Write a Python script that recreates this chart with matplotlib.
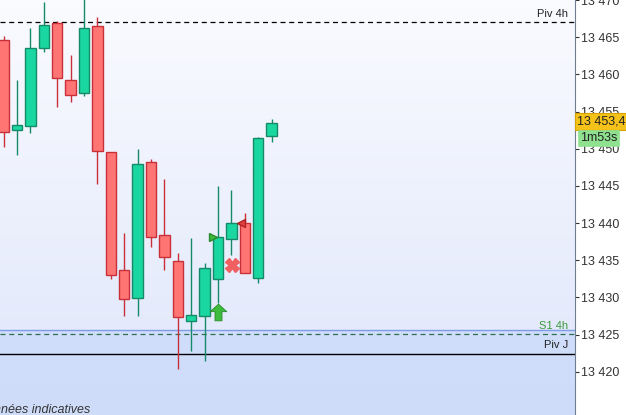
import matplotlib
matplotlib.use("Agg")
import matplotlib.pyplot as plt
import matplotlib.transforms as mtransforms
from matplotlib.path import Path
import numpy as np
from matplotlib.colors import LinearSegmentedColormap

plt.rcParams['font.family'] = ['Liberation Sans', 'DejaVu Sans']

# candles
opens  = [13464.6, 13452.5, 13453.0, 13463.5, 13466.9, 13459.2, 13457.5, 13466.5, 13449.5, 13433.7, 13429.9,
          13448.2, 13438.4, 13434.9, 13426.8, 13427.5, 13432.5, 13437.8, 13440.0, 13432.6, 13451.7]
highs  = [13465.2, 13459.2, 13466.2, 13469.7, 13467.2, 13462.6, 13471.0, 13467.7, 13449.6, 13438.7, 13449.9,
          13448.6, 13445.9, 13436.0, 13438.0, 13434.6, 13445.0, 13444.4, 13441.3, 13451.6, 13454.0]
lows   = [13450.3, 13449.1, 13452.1, 13463.0, 13455.6, 13456.3, 13457.1, 13445.2, 13432.5, 13427.5, 13427.5,
          13436.8, 13433.7, 13420.4, 13422.8, 13421.5, 13429.2, 13435.7, 13433.3, 13431.9, 13450.9]
closes = [13452.2, 13453.2, 13463.5, 13466.7, 13459.5, 13457.2, 13466.2, 13449.7, 13433.0, 13429.8, 13447.9,
          13438.1, 13435.4, 13427.4, 13427.6, 13434.0, 13438.1, 13440.0, 13433.3, 13451.4, 13453.4]

piv_4h = 13467.0
s1_4h = 13425.1
zone_top = 13425.6
piv_j = 13422.4
last_price = 13453.4
countdown = "1m53s"

# signal markers: (candle index, price)
buy_tri = (15.6, 13438.1)
sell_tri = (17.7, 13440.0)
cross = (17.05, 13434.4)
up_arrow = (16.0, 13428.0)

ytick_vals = [13420, 13425, 13430, 13435, 13440, 13445, 13450, 13455, 13460, 13465, 13470]

fig = plt.figure(figsize=(6.26, 4.15), dpi=100)
ax = fig.add_axes([0, 0, 575 / 626, 1])
ymin, ymax = 13414.2, 13470.0
xmin, xmax = -0.27, 42.64
ax.set_xlim(xmin, xmax)
ax.set_ylim(ymin, ymax)

# background gradient
cmap = LinearSegmentedColormap.from_list("bg", ["#dfe6fb", "#fafbff"])
grad = np.linspace(0, 1, 256).reshape(-1, 1)
ax.imshow(grad, extent=[xmin, xmax, ymin, ymax], origin="lower", cmap=cmap, aspect="auto", zorder=0)
# shaded zone under the S1 line
ax.fill_between([xmin, xmax], ymin, zone_top, color="#c9d9fa", alpha=0.75, zorder=1, lw=0)
ax.axhline(zone_top, color="#7f9de6", lw=1.0, zorder=2)

ax.axhline(piv_4h, color="black", lw=0.9, ls=(0, (4, 3)), zorder=2)
ax.axhline(s1_4h, color="#2e6b50", lw=0.9, ls=(0, (4, 3)), zorder=2)
ax.axhline(piv_j, color="black", lw=1.0, zorder=2)

tr = mtransforms.blended_transform_factory(ax.transAxes, ax.transData)
ax.text(0.988, piv_4h + 0.4, "Piv 4h", transform=tr, ha="right", va="bottom", fontsize=8, color="#222222")
ax.text(0.988, s1_4h + 0.4, "S1 4h", transform=tr, ha="right", va="bottom", fontsize=8, color="#3a9a3a")
ax.text(0.988, piv_j + 0.5, "Piv J", transform=tr, ha="right", va="bottom", fontsize=8, color="#222222")

# candles
idx = np.arange(len(opens))
o = np.array(opens)
c = np.array(closes)
up = c >= o
fills = np.where(up, "#1ad6a0", "#ff7573")
edges = np.where(up, "#168a68", "#c9303a")
ax.vlines(idx, lows, highs, colors=edges, lw=1.0, zorder=3)
ax.bar(idx, np.abs(c - o), bottom=np.minimum(o, c), width=0.78, color=fills, edgecolor=edges, lw=1.0, zorder=4)

# signals
arrow_marker = Path([(-1, 0.1), (0, 1), (1, 0.1), (0.42, 0.1), (0.42, -1), (-0.42, -1), (-0.42, 0.1), (-1, 0.1)],
                    closed=True)
ax.plot(*buy_tri, marker=">", color="#3dbb3d", markersize=6, zorder=5, mec="#2a8a2a")
ax.plot(*sell_tri, marker="<", color="#e04040", markersize=6, zorder=5, mec="#b02020")
ax.plot(*cross, marker="X", color="#f06060", markersize=10, zorder=5, mec="#f06060")
ax.plot(*up_arrow, marker=arrow_marker, color="#3dbb3d", markersize=12, zorder=5, mec="#2a8a2a", mew=0.6)

# right axis
ax.yaxis.tick_right()
ax.set_yticks(ytick_vals)
ax.set_yticklabels([f"{v:,}".replace(",", " ") for v in ytick_vals])
ax.tick_params(axis="y", direction="out", length=3, width=0.8, colors="#333333", labelsize=9, pad=1)
ax.set_xticks([])
for s in ["top", "bottom", "left"]:
    ax.spines[s].set_visible(False)
ax.spines["right"].set_color("#6e7e8e")

ax.text(1.004, last_price + 0.2, f"{last_price:,.1f}".replace(",", " ").replace(".", ","), transform=tr,
        ha="left", va="center", fontsize=9, color="#222222", clip_on=False, zorder=10,
        bbox=dict(boxstyle="square,pad=0.2", fc="#f5c21a", ec="#d6a200", lw=0.8))
ax.text(1.008, last_price - 2.0, countdown, transform=tr,
        ha="left", va="center", fontsize=9, color="#222222", clip_on=False, zorder=10,
        bbox=dict(boxstyle="square,pad=0.15", fc="#8fe08f", ec="#8fe08f", lw=0.5))

fig.text(-22 / 626, 1 - 404 / 415, "Données indicatives", ha="left", va="top", fontsize=9,
         style="italic", color="#333333")

fig.savefig("out.png", dpi=100)
